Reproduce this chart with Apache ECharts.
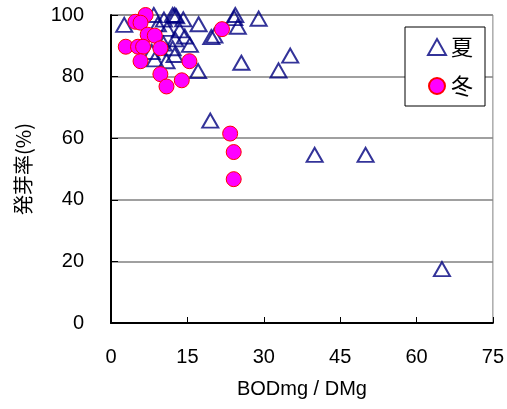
<!DOCTYPE html>
<html>
<head>
<meta charset="utf-8">
<script src="https://cdn.jsdelivr.net/npm/echarts@6/dist/echarts.min.js"></script>
<style>
  html, body { margin: 0; padding: 0; background: #fff; }
  #main { width: 507px; height: 409px; }
</style>
</head>
<body>
<div id="main"></div>
<script>
// 夏 (summer) points
var summerX = [2.6, 8.4, 9.2, 10.4, 12.1, 12.8, 12.5, 14.2, 17.2, 19.7, 20.3, 12.6, 12.1, 15.5, 12.5, 10.9, 17.1, 8.6, 10.3, 13.5, 11.0, 24.4, 24.2, 29.0, 24.9, 25.6, 32.9, 35.2, 19.5, 40.0, 50.0, 65.0, 14.5, 8.0];
var summerY = [96.8, 100, 97.0, 98.5, 100, 99.6, 100, 98.6, 97.0, 92.8, 93.3, 92.1, 89.2, 90.3, 87.0, 85.0, 81.8, 85.6, 90.7, 95.0, 95.5, 100, 99.0, 98.8, 96.2, 84.5, 82.0, 86.8, 65.7, 54.6, 54.6, 17.5, 93.0, 88.0];
// 冬 (winter) points
var winterX = [6.8, 4.8, 5.8, 7.2, 8.6, 2.9, 5.3, 6.3, 9.7, 5.8, 9.7, 10.9, 13.9, 15.4, 21.8, 23.4, 24.1, 24.1];
var winterY = [100, 97.8, 97.5, 93.6, 93.3, 89.7, 89.7, 89.7, 89.2, 85.0, 80.8, 76.8, 78.8, 85.0, 95.4, 61.5, 55.5, 46.7];

var seriesNames = ['夏', '冬'];

function pairs(xs, ys) {
  return xs.map(function (x, i) { return [x, ys[i]]; });
}

var myChart = echarts.init(document.getElementById('main'));

var numFont = 'Liberation Sans, Arial, sans-serif';
var cjkFont = 'Noto Sans CJK JP, sans-serif';

myChart.setOption({
  animation: false,
  grid: {
    left: 111, right: 10, top: 15, bottom: 86,
    show: true, borderColor: '#808080', borderWidth: 1
  },
  legend: {
    orient: 'vertical',
    left: 405, top: 27,
    padding: [9, 12, 9, 22],
    itemGap: 17,
    itemWidth: 18, itemHeight: 16,
    backgroundColor: '#fff',
    borderColor: '#000', borderWidth: 1,
    textStyle: { fontFamily: cjkFont, fontSize: 22, color: '#000' },
    data: seriesNames
  },
  xAxis: {
    type: 'value', min: 0, max: 75, interval: 15,
    name: 'BODmg / DMg', nameLocation: 'middle', nameGap: 56,
    nameTextStyle: { fontFamily: numFont, fontSize: 20, color: '#000' },
    axisLine: { lineStyle: { color: '#000', width: 2 } },
    axisTick: { inside: true, length: 6, lineStyle: { color: '#000' } },
    axisLabel: { fontFamily: numFont, fontSize: 20, color: '#000', margin: 24 },
    splitLine: { show: false }
  },
  yAxis: {
    type: 'value', min: 0, max: 100, interval: 20,
    name: '発芽率(%)', nameLocation: 'middle', nameGap: 78,
    nameTextStyle: { fontFamily: cjkFont, fontSize: 20, color: '#000' },
    axisLine: { show: true, lineStyle: { color: '#000', width: 2 } },
    axisTick: { show: true, inside: true, length: 7, lineStyle: { color: '#000' } },
    axisLabel: { fontFamily: numFont, fontSize: 20, color: '#000', margin: 27 },
    splitLine: { show: true, lineStyle: { color: '#808080', width: 1.5 } }
  },
  series: [
    {
      name: seriesNames[0],
      type: 'scatter',
      symbol: 'triangle',
      symbolSize: [16, 14],
      itemStyle: { color: 'rgba(255,255,255,0)', borderColor: '#000080', borderWidth: 2 },
      data: pairs(summerX, summerY)
    },
    {
      name: seriesNames[1],
      type: 'scatter',
      symbol: 'circle',
      symbolSize: 15,
      itemStyle: { color: '#ff00ff', borderColor: '#ff0000', borderWidth: 1, opacity: 1 },
      data: pairs(winterX, winterY)
    }
  ]
});
</script>
</body>
</html>
